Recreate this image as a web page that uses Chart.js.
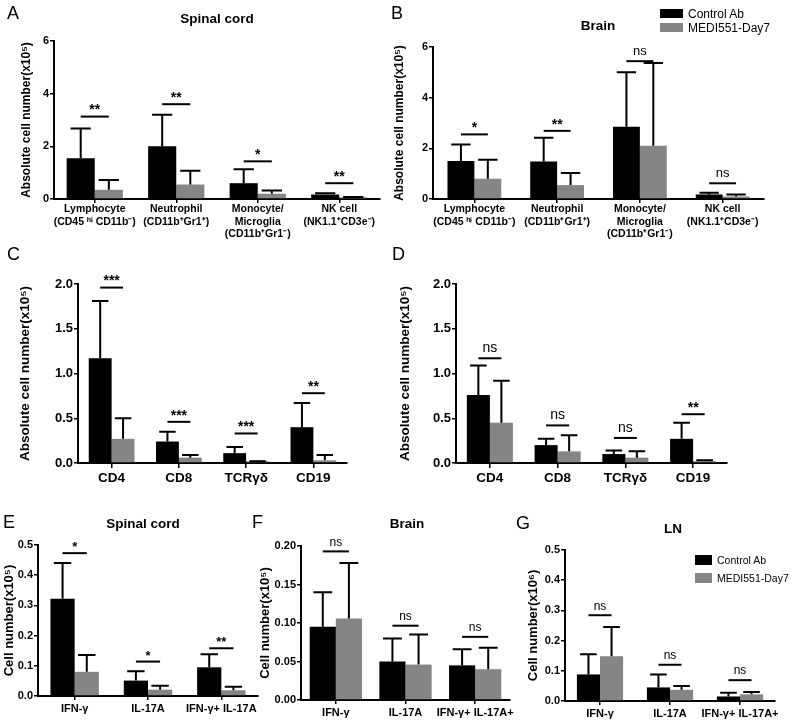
<!DOCTYPE html>
<html>
<head>
<meta charset="utf-8">
<script src="https://cdn.jsdelivr.net/npm/chart.js@4"></script>
<style>
  body { margin: 0; background: #fff; width: 800px; height: 724px; position: relative; overflow: hidden;
         font-family: "Liberation Sans", Arial, sans-serif; }
  .pane { position: absolute; }
  .txt { position: absolute; white-space: nowrap; color: #000; transform: translate(-50%, -50%); }
  .letter { position: absolute; font-size: 18px; transform: translateY(-50%); }
  .leg { position: absolute; }
  .leg div { position: absolute; white-space: nowrap; }
</style>
</head>
<body>
<script>
// ---- data ----
const seriesNames = ["Control Ab", "MEDI551-Day7"];
const seriesColors = ["#000000", "#858585"];

const catsAB = [["Lymphocyte", "(CD45 ʰⁱ CD11b⁻)"], ["Neutrophil", "(CD11b⁺Gr1⁺)"],
                ["Monocyte/", "Microglia", "(CD11b⁺Gr1⁻)"], ["NK cell", "(NK1.1⁺CD3e⁻)"]];
const catsCD = ["CD4", "CD8", "TCRγδ", "CD19"];
const catsE = ["IFN-γ", "IL-17A", "IFN-γ+ IL-17A"];
const catsFG = ["IFN-γ", "IL-17A", "IFN-γ+ IL-17A+"];

// A - spinal cord
const ctrlA = [1.55, 2.0, 0.6, 0.17];
const ctrlHiA = [2.68, 3.2, 1.13, 0.22];
const mediA = [0.35, 0.55, 0.2, 0.06];
const mediHiA = [0.72, 1.07, 0.32, 0.08];
const sigA = ["**", "**", "*", "**"];
const sigAtA = [3.13, 3.6, 1.43, 0.6];

// B - brain
const ctrlB = [1.5, 1.48, 2.85, 0.18];
const ctrlHiB = [2.15, 2.42, 5.0, 0.25];
const mediB = [0.8, 0.55, 2.1, 0.1];
const mediHiB = [1.55, 1.03, 5.37, 0.18];
const sigB = ["*", "**", "ns", "ns"];
const sigAtB = [2.55, 2.69, 5.44, 0.62];

// C - spinal cord T/B cells
const ctrlC = [1.17, 0.24, 0.11, 0.4];
const ctrlHiC = [1.81, 0.35, 0.18, 0.67];
const mediC = [0.27, 0.06, 0.02, 0.03];
const mediHiC = [0.5, 0.09, 0.02, 0.09];
const sigC = ["***", "***", "***", "**"];
const sigAtC = [1.96, 0.46, 0.33, 0.78];

// D - brain T/B cells
const ctrlD = [0.76, 0.2, 0.1, 0.27];
const ctrlHiD = [1.09, 0.27, 0.14, 0.45];
const mediD = [0.45, 0.13, 0.06, 0.02];
const mediHiD = [0.92, 0.31, 0.13, 0.03];
const sigD = ["ns", "ns", "ns", "**"];
const sigAtD = [1.17, 0.42, 0.28, 0.545];

// E - spinal cord cytokines
const ctrlE = [0.322, 0.051, 0.095];
const ctrlHiE = [0.44, 0.082, 0.138];
const mediE = [0.08, 0.021, 0.019];
const mediHiE = [0.136, 0.034, 0.031];
const sigE = ["*", "*", "**"];
const sigAtE = [0.473, 0.114, 0.158];

// F - brain cytokines
const ctrlF = [0.095, 0.05, 0.045];
const ctrlHiF = [0.14, 0.08, 0.066];
const mediF = [0.106, 0.046, 0.04];
const mediHiF = [0.178, 0.085, 0.068];
const sigF = ["ns", "ns", "ns"];
const sigAtF = [0.193, 0.0965, 0.082];

// G - LN cytokines
const ctrlG = [0.088, 0.045, 0.015];
const ctrlHiG = [0.155, 0.088, 0.027];
const mediG = [0.148, 0.037, 0.022];
const mediHiG = [0.245, 0.05, 0.03];
const sigG = ["ns", "ns", "ns"];
const sigAtG = [0.284, 0.12, 0.069];

// ---- drawing ----
const FONT = '"Liberation Sans", Arial, sans-serif';

// error bars (upper only) + significance bars
const errSig = {
    id: "errSig",
    afterDatasetsDraw(chart, args, opts) {
        const ctx = chart.ctx;
        const y = chart.scales.y;
        ctx.save();
        ctx.strokeStyle = "#000";
        ctx.lineWidth = 2;
        chart.data.datasets.forEach((ds, i) => {
            chart.getDatasetMeta(i).data.forEach((bar, j) => {
                const top = y.getPixelForValue(ds.hi[j]);
                const half = bar.width * 0.36;
                ctx.beginPath();
                ctx.moveTo(bar.x, bar.y);
                ctx.lineTo(bar.x, top);
                ctx.moveTo(bar.x - half, top);
                ctx.lineTo(bar.x + half, top);
                ctx.stroke();
            });
        });
        const a = chart.getDatasetMeta(0).data;
        const b = chart.getDatasetMeta(1).data;
        ctx.fillStyle = "#000";
        ctx.textAlign = "center";
        ctx.textBaseline = "bottom";
        opts.marks.forEach((m, j) => {
            const py = y.getPixelForValue(opts.at[j]);
            ctx.beginPath();
            ctx.moveTo(a[j].x, py);
            ctx.lineTo(b[j].x, py);
            ctx.stroke();
            const ns = m === "ns";
            ctx.font = (ns ? "" : "bold ") + (ns ? opts.nsSize : opts.starSize) + "px " + FONT;
            ctx.fillText(m, (a[j].x + b[j].x) / 2, py - (ns ? 3 : -1));
        });
        ctx.restore();
    },
};

function panel(p) {
    const wrap = document.createElement("div");
    wrap.className = "pane";
    wrap.style.left = p.x + "px";
    wrap.style.top = p.y + "px";
    const cv = document.createElement("canvas");
    cv.width = p.w;
    cv.height = p.h;
    wrap.append(cv);
    document.body.append(wrap);

    const lh = p.titleSize * 1.2;
    new Chart(cv, {
        type: "bar",
        data: {
            labels: p.cats,
            datasets: [
                { label: seriesNames[0], data: p.ctrl, hi: p.ctrlHi, backgroundColor: seriesColors[0] },
                { label: seriesNames[1], data: p.medi, hi: p.mediHi, backgroundColor: seriesColors[1] },
            ],
        },
        options: {
            responsive: false,
            animation: false,
            devicePixelRatio: 1,
            categoryPercentage: p.catPct,
            barPercentage: 1,
            layout: { padding: { top: p.area[1], right: p.w - p.area[2], left: 0, bottom: 0 } },
            plugins: {
                legend: { display: false },
                tooltip: { enabled: false },
                errSig: { marks: p.sig, at: p.sigAt, starSize: p.starSize, nsSize: p.nsSize },
            },
            scales: {
                x: {
                    afterFit: (s) => { s.height = p.h - p.area[3]; },
                    border: { color: "#000", width: 2 },
                    grid: { offset: false, drawOnChartArea: false, color: "#000", lineWidth: 1.5, tickLength: p.xTick },
                    ticks: {
                        color: "#000", autoSkip: false, maxRotation: 0, padding: p.xPad,
                        font: { family: FONT, size: p.catSize, weight: "bold", lineHeight: 1.2 },
                    },
                },
                y: {
                    min: 0, max: p.max,
                    afterFit: (s) => { s.width = p.area[0]; },
                    border: { color: "#000", width: 2 },
                    grid: { drawOnChartArea: false, color: "#000", lineWidth: 1.5, tickLength: 4 },
                    ticks: {
                        color: "#000", stepSize: p.step, padding: 1,
                        font: { family: FONT, size: p.tickSize, weight: "bold" },
                        callback: (v) => v.toFixed(p.dec),
                    },
                    title: {
                        display: true, text: p.yTitle, color: "#000",
                        padding: { top: p.titleX - lh / 2, bottom: 0 },
                        font: { family: FONT, size: p.titleSize, weight: "bold", lineHeight: 1.2 },
                    },
                },
            },
        },
        plugins: [errSig],
    });
}

function text(t, x, y, css) {
    const d = document.createElement("div");
    d.className = "txt";
    d.textContent = t;
    d.style.left = x + "px";
    d.style.top = y + "px";
    Object.assign(d.style, css || {});
    document.body.append(d);
}

function letter(t, x, y) {
    const d = document.createElement("div");
    d.className = "letter";
    d.textContent = t;
    d.style.left = x + "px";
    d.style.top = y + "px";
    document.body.append(d);
}

function legend(x, y, bw, bh, gap, size) {
    const l = document.createElement("div");
    l.className = "leg";
    l.style.left = x + "px";
    l.style.top = y + "px";
    seriesNames.forEach((n, i) => {
        const box = document.createElement("div");
        Object.assign(box.style, { left: "0px", top: i * gap + "px", width: bw + "px", height: bh + "px", background: seriesColors[i] });
        const t = document.createElement("div");
        t.textContent = n;
        Object.assign(t.style, { left: bw + 5 + "px", top: i * gap + bh / 2 + "px", transform: "translateY(-50%)", fontSize: size + "px" });
        l.append(box, t);
    });
    document.body.append(l);
}

const y5 = "Absolute cell number(x10⁵)";

panel({ x: 0, y: 0, w: 392, h: 258, area: [54, 41, 380, 199], cats: catsAB,
    ctrl: ctrlA, ctrlHi: ctrlHiA, medi: mediA, mediHi: mediHiA, sig: sigA, sigAt: sigAtA,
    max: 6, step: 2, dec: 0, catPct: 0.69, yTitle: y5, titleX: 27, titleSize: 12,
    tickSize: 11, catSize: 10.5, xTick: 4, xPad: 0, starSize: 14, nsSize: 13 });
panel({ x: 392, y: 0, w: 408, h: 258, area: [41, 47, 372, 199], cats: catsAB,
    ctrl: ctrlB, ctrlHi: ctrlHiB, medi: mediB, mediHi: mediHiB, sig: sigB, sigAt: sigAtB,
    max: 6, step: 2, dec: 0, catPct: 0.65, yTitle: y5, titleX: 8, titleSize: 12,
    tickSize: 11, catSize: 10.5, xTick: 4, xPad: 0, starSize: 14, nsSize: 13 });
panel({ x: 0, y: 258, w: 392, h: 242, area: [78, 26, 347, 205], cats: catsCD,
    ctrl: ctrlC, ctrlHi: ctrlHiC, medi: mediC, mediHi: mediHiC, sig: sigC, sigAt: sigAtC,
    max: 2, step: 0.5, dec: 1, catPct: 0.68, yTitle: y5, titleX: 25, titleSize: 13.5,
    tickSize: 13, catSize: 13.5, xTick: 5, xPad: 2, starSize: 14, nsSize: 14 });
panel({ x: 392, y: 258, w: 408, h: 242, area: [64, 26, 335, 205], cats: catsCD,
    ctrl: ctrlD, ctrlHi: ctrlHiD, medi: mediD, mediHi: mediHiD, sig: sigD, sigAt: sigAtD,
    max: 2, step: 0.5, dec: 1, catPct: 0.68, yTitle: y5, titleX: 13, titleSize: 13.5,
    tickSize: 13, catSize: 13.5, xTick: 5, xPad: 2, starSize: 14, nsSize: 14 });
panel({ x: 0, y: 500, w: 264, h: 224, area: [38, 45, 258, 196], cats: catsE,
    ctrl: ctrlE, ctrlHi: ctrlHiE, medi: mediE, mediHi: mediHiE, sig: sigE, sigAt: sigAtE,
    max: 0.5, step: 0.1, dec: 1, catPct: 0.66, yTitle: "Cell number(x10⁵)", titleX: 9, titleSize: 13,
    tickSize: 11, catSize: 11, xTick: 4, xPad: 2, starSize: 13, nsSize: 12 });
panel({ x: 254, y: 500, w: 266, h: 224, area: [47, 46, 256, 200], cats: catsFG,
    ctrl: ctrlF, ctrlHi: ctrlHiF, medi: mediF, mediHi: mediHiF, sig: sigF, sigAt: sigAtF,
    max: 0.2, step: 0.05, dec: 2, catPct: 0.75, yTitle: "Cell number(x10⁵)", titleX: 11, titleSize: 13,
    tickSize: 11, catSize: 11, xTick: 4, xPad: 2, starSize: 13, nsSize: 12 });
panel({ x: 520, y: 500, w: 280, h: 224, area: [45, 50, 255, 201], cats: catsFG,
    ctrl: ctrlG, ctrlHi: ctrlHiG, medi: mediG, mediHi: mediHiG, sig: sigG, sigAt: sigAtG,
    max: 0.5, step: 0.1, dec: 1, catPct: 0.66, yTitle: "Cell number(x10⁶)", titleX: 13, titleSize: 13,
    tickSize: 11, catSize: 11, xTick: 4, xPad: 2, starSize: 13, nsSize: 12 });

const bold13 = { fontWeight: "bold", fontSize: "13.5px" };
text("Spinal cord", 217, 18, bold13);
text("Brain", 598, 25, bold13);
text("Spinal cord", 143, 523, bold13);
text("Brain", 407, 523, bold13);
text("LN", 673, 528, bold13);

letter("A", 7, 13);
letter("B", 391, 13);
letter("C", 7, 254);
letter("D", 392, 254);
letter("E", 3, 522);
letter("F", 252, 522);
letter("G", 516, 523);

legend(660, 9, 23, 9, 14, 12);
legend(695, 555, 17, 10, 18, 10.5);
</script>
</body>
</html>
